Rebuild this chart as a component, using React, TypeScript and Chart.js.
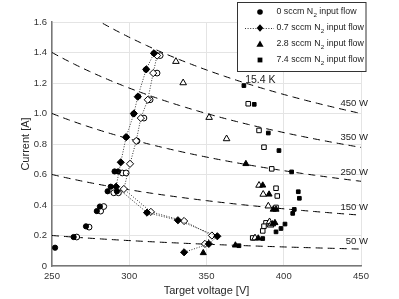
import React, { useEffect, useRef } from 'react';
import { Chart, registerables } from 'chart.js';

Chart.register(...registerables);

const FONT = "'Liberation Sans', Arial, Helvetica, sans-serif";

// Axis ticks
const X_TICKS = [250, 300, 350, 400, 450];
const Y_TICKS = [0, 0.2, 0.4, 0.6, 0.8, 1, 1.2, 1.4, 1.6];

// Iso-power reference curves
const POWER_LEVELS = [50, 150, 250, 350, 450];
const POWER_LABELS = ['50 W', '150 W', '250 W', '350 W', '450 W'];

// Annotation
const NOTE_TEXT = '15.4 K';
const NOTE_V = 375;
const NOTE_I = 1.22;

// 0 sccm N2 (circles)
const V0_FILLED = [252, 264, 272, 279, 281, 286, 288, 292, 290.5, 292.8, 298, 302.8, 305.8, 310.8, 316];
const I0_FILLED = [0.12, 0.19, 0.26, 0.36, 0.39, 0.49, 0.52, 0.49, 0.62, 0.62, 0.845, 0.997, 1.112, 1.288, 1.394];
const V0_HOLLOW = [266, 274, 281.5, 283.5, 290, 293, 295.5, 298, 305, 309.5, 313.5, 318, 320];
const I0_HOLLOW = [0.19, 0.255, 0.36, 0.39, 0.48, 0.48, 0.61, 0.61, 0.82, 0.97, 1.09, 1.265, 1.38];

// 0.7 sccm N2 (diamonds, dotted)
const V07_FILLED = [335.5, 351.5, 357, 331.5, 311.5, 291.5, 294.5, 298, 303, 305.5, 311, 316];
const I07_FILLED = [0.09, 0.145, 0.195, 0.3, 0.35, 0.52, 0.68, 0.845, 1.0, 1.11, 1.29, 1.395];
const V07_HOLLOW = [349, 353.5, 335.5, 314, 296.5, 300.5, 304.5, 307.5, 312, 315.5, 318];
const I07_HOLLOW = [0.145, 0.2, 0.295, 0.355, 0.505, 0.67, 0.82, 0.97, 1.09, 1.265, 1.38];

// 2.8 sccm N2 (triangles)
const V28_FILLED = [375.5, 386.4, 390.5, 393.2, 395, 392.8, 394.3, 383.5, 347.9, 368.7];
const I28_FILLED = [0.67, 0.529, 0.47, 0.371, 0.371, 0.275, 0.283, 0.182, 0.086, 0.136];
const V28_HOLLOW = [330.2, 334.9, 351.7, 363, 384, 386.7, 390, 390.8, 391.5, 381.4];
const I28_HOLLOW = [1.341, 1.201, 0.974, 0.834, 0.529, 0.47, 0.393, 0.29, 0.268, 0.184];

// 7.4 sccm N2 (squares)
const V74_FILLED = [374.2, 380.9, 390, 396.9, 405.1, 409.4, 410.1, 406.8, 405.8, 395, 398.2, 400.8, 386.4, 371];
const I74_FILLED = [1.183, 1.06, 0.872, 0.757, 0.617, 0.487, 0.444, 0.371, 0.345, 0.224, 0.246, 0.275, 0.18, 0.133];
const V74_HOLLOW = [377, 384, 387.2, 392.2, 395, 395.8, 395, 388.5, 387.2, 386.4, 379.9];
const I74_HOLLOW = [1.064, 0.889, 0.779, 0.637, 0.51, 0.459, 0.384, 0.283, 0.261, 0.23, 0.184];

// Legend
const LEGEND_ITEMS = [
  { pre: '0 sccm N', sub: '2', post: ' input flow', marker: 'circle' },
  { pre: '0.7 sccm N', sub: '2', post: ' input flow', marker: 'diamond' },
  { pre: '2.8 sccm N', sub: '2', post: ' input flow', marker: 'triangle' },
  { pre: '7.4 sccm N', sub: '2', post: ' input flow', marker: 'square' },
];

function pts(xs: number[], ys: number[]) {
  return xs.map((x, i) => ({ x, y: ys[i] }));
}

function markerSet(label: string, xs: number[], ys: number[], style: string, filled: boolean, radius: number, extra: any = {}) {
  return {
    label,
    data: pts(xs, ys),
    pointStyle: style,
    pointRadius: radius,
    pointBackgroundColor: filled ? '#000' : '#fff',
    pointBorderColor: '#000',
    pointBorderWidth: 1,
    showLine: false,
    ...extra,
  };
}

const dotted = { showLine: true, borderColor: '#333', borderWidth: 1, borderDash: [1, 1.6], tension: 0, fill: false };

const overlayPlugin = {
  id: 'overlay',
  beforeDatasetsDraw(chart: any) {
    const { ctx, chartArea, scales } = chart;
    const xs = scales.x;
    const ys = scales.y;
    ctx.save();
    ctx.beginPath();
    ctx.rect(chartArea.left, chartArea.top, chartArea.right - chartArea.left, chartArea.bottom - chartArea.top);
    ctx.clip();
    ctx.strokeStyle = '#000';
    ctx.lineWidth = 1;
    ctx.setLineDash([7, 5]);
    for (const p of POWER_LEVELS) {
      ctx.beginPath();
      let first = true;
      for (let px = chartArea.left; px <= chartArea.right + 0.5; px += 1.5) {
        const v = xs.getValueForPixel(px);
        const py = ys.getPixelForValue(p / v);
        if (first) { ctx.moveTo(px, py); first = false; } else ctx.lineTo(px, py);
      }
      ctx.stroke();
    }
    ctx.restore();
  },
  afterDatasetsDraw(chart: any) {
    const { ctx, scales } = chart;
    const xs = scales.x;
    const ys = scales.y;
    ctx.save();
    ctx.fillStyle = '#222';
    ctx.font = `9.5px ${FONT}`;
    ctx.textAlign = 'right';
    ctx.textBaseline = 'middle';
    POWER_LEVELS.forEach((p, i) => {
      const x = xs.getPixelForValue(450) + 7;
      const y = ys.getPixelForValue(p / 440) - 7;
      ctx.fillText(POWER_LABELS[i], x, y);
    });
    ctx.font = `10.5px ${FONT}`;
    ctx.textAlign = 'left';
    ctx.fillText(NOTE_TEXT, xs.getPixelForValue(NOTE_V), ys.getPixelForValue(NOTE_I));
    ctx.restore();
  },
  afterDraw(chart: any) {
    const { ctx } = chart;
    ctx.save();
    const bx = 237.5, by = 2.5, bw = 128.5, bh = 69;
    ctx.fillStyle = '#fff';
    ctx.fillRect(bx, by, bw, bh);
    ctx.strokeStyle = '#333';
    ctx.lineWidth = 1;
    ctx.setLineDash([]);
    ctx.strokeRect(bx, by, bw, bh);
    const rows = [12, 28, 44, 60];
    const mx = 260;
    LEGEND_ITEMS.forEach((it, i) => {
      const y = rows[i];
      ctx.fillStyle = '#000';
      ctx.strokeStyle = '#000';
      if (it.marker === 'circle') {
        ctx.beginPath();
        ctx.arc(mx, y, 2.8, 0, Math.PI * 2);
        ctx.fill();
      } else if (it.marker === 'diamond') {
        ctx.save();
        ctx.strokeStyle = '#333';
        ctx.setLineDash([1, 1.6]);
        ctx.beginPath();
        ctx.moveTo(245, y + 0.5);
        ctx.lineTo(274, y + 0.5);
        ctx.stroke();
        ctx.restore();
        ctx.beginPath();
        ctx.moveTo(mx, y - 3.8);
        ctx.lineTo(mx + 3.3, y);
        ctx.lineTo(mx, y + 3.8);
        ctx.lineTo(mx - 3.3, y);
        ctx.closePath();
        ctx.fill();
      } else if (it.marker === 'triangle') {
        ctx.beginPath();
        ctx.moveTo(mx, y - 3.6);
        ctx.lineTo(mx + 3.6, y + 2.8);
        ctx.lineTo(mx - 3.6, y + 2.8);
        ctx.closePath();
        ctx.fill();
      } else {
        ctx.fillRect(mx - 2.4, y - 2.4, 4.8, 4.8);
      }
      ctx.fillStyle = '#222';
      ctx.textAlign = 'left';
      ctx.textBaseline = 'middle';
      let tx = 276.5;
      ctx.font = `8.8px ${FONT}`;
      ctx.fillText(it.pre, tx, y);
      tx += ctx.measureText(it.pre).width + 0.3;
      ctx.font = `6.2px ${FONT}`;
      ctx.fillText(it.sub, tx, y + 3);
      tx += ctx.measureText(it.sub).width;
      ctx.font = `8.8px ${FONT}`;
      ctx.fillText(it.post, tx, y);
    });
    ctx.restore();
  },
};

export default function App() {
  const ref = useRef<HTMLCanvasElement | null>(null);

  useEffect(() => {
    document.body.style.margin = '0';
    const canvas = ref.current;
    if (!canvas) return;
    const tickFont = { family: FONT, size: 9.5 };
    const titleFont = { family: FONT, size: 11 };
    const chart = new Chart(canvas, {
      type: 'scatter',
      data: {
        datasets: [
          markerSet('0.7 filled', V07_FILLED, I07_FILLED, 'rectRot', true, 3.6, dotted),
          markerSet('0.7 hollow', V07_HOLLOW, I07_HOLLOW, 'rectRot', false, 3.6, dotted),
          markerSet('0 filled', V0_FILLED, I0_FILLED, 'circle', true, 2.6),
          markerSet('0 hollow', V0_HOLLOW, I0_HOLLOW, 'circle', false, 2.9),
          markerSet('2.8 filled', V28_FILLED, I28_FILLED, 'triangle', true, 3.5),
          markerSet('2.8 hollow', V28_HOLLOW, I28_HOLLOW, 'triangle', false, 3.8),
          markerSet('7.4 filled', V74_FILLED, I74_FILLED, 'rect', true, 2.6),
          markerSet('7.4 hollow', V74_HOLLOW, I74_HOLLOW, 'rect', false, 3.2),
        ] as any,
      },
      options: {
        responsive: false,
        animation: false,
        events: [],
        layout: { padding: { left: 0, right: 38, top: 22, bottom: 0 } },
        plugins: { legend: { display: false }, tooltip: { enabled: false } },
        scales: {
          x: {
            type: 'linear',
            min: 250,
            max: 450,
            afterBuildTicks: (s: any) => { s.ticks = X_TICKS.map((v) => ({ value: v })); },
            afterFit: (s: any) => { s.height = 33; },
            ticks: { font: tickFont, color: '#333', padding: 5, maxRotation: 0 },
            grid: { color: '#e4e4e4', drawTicks: false, lineWidth: 1 },
            border: { color: '#777', width: 1.5 },
            title: { display: true, text: 'Target voltage [V]', font: titleFont, color: '#262626', padding: { top: 0, bottom: 1 } },
          },
          y: {
            type: 'linear',
            min: 0,
            max: 1.6,
            afterBuildTicks: (s: any) => { s.ticks = Y_TICKS.map((v) => ({ value: v })); },
            afterFit: (s: any) => { s.width = 52; },
            ticks: { font: tickFont, color: '#333', padding: 5 },
            grid: { color: '#e4e4e4', drawTicks: false, lineWidth: 1 },
            border: { color: '#777', width: 1.5 },
            title: { display: true, text: 'Current [A]', font: titleFont, color: '#262626', padding: { top: 19.4, bottom: 0 } },
          },
        },
      } as any,
      plugins: [overlayPlugin],
    });
    return () => chart.destroy();
  }, []);

  return (
    <div style={{ width: 399, height: 299 }}>
      <canvas ref={ref} width={399} height={299} style={{ display: 'block', width: 399, height: 299 }} />
    </div>
  );
}
